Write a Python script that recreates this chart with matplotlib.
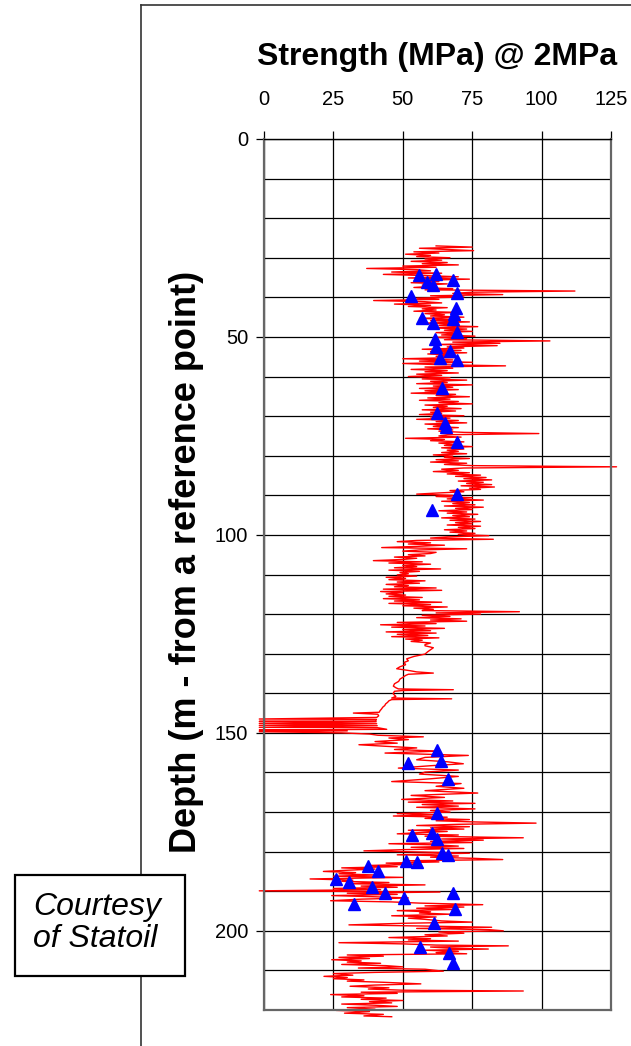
import matplotlib
matplotlib.use("Agg")
import matplotlib.pyplot as plt
from matplotlib.lines import Line2D
from matplotlib.patches import Rectangle

plt.rcParams['font.family'] = ['Liberation Sans', 'DejaVu Sans']

# strength log (depth m, strength MPa)
log_points = [
    (27.0, 62), (27.3, 75), (27.6, 56), (27.9, 66), (28.2, 75.5), (28.5, 54), (28.8, 63), (29.1, 51), (29.4, 60), (29.7, 55),
    (30.0, 67), (30.3, 58), (30.6, 64), (30.9, 53), (31.2, 66), (31.5, 57), (31.8, 70), (32.1, 50), (32.4, 62), (32.7, 37),
    (33.0, 55), (33.3, 60), (33.6, 46), (33.9, 64), (34.2, 43), (34.5, 58), (34.8, 70), (35.1, 52), (35.4, 74), (35.7, 56),
    (36.0, 63), (36.3, 53), (36.6, 66), (36.9, 57), (37.2, 61), (37.5, 54), (37.8, 68), (38.1, 58), (38.4, 112), (38.7, 75),
    (39.0, 68), (39.3, 86), (39.6, 60), (39.9, 72), (40.2, 55), (40.5, 63), (40.8, 39.5), (41.1, 58), (41.4, 64), (41.7, 47),
    (42.0, 60), (42.3, 52), (42.6, 66), (42.9, 57), (43.2, 62), (43.5, 54), (43.8, 70), (44.1, 58), (44.4, 65), (44.7, 60),
    (45.0, 72), (45.3, 56), (45.6, 68), (45.9, 60), (46.2, 74), (46.5, 58), (46.8, 70), (47.1, 63), (47.4, 77), (47.7, 60),
    (48.0, 73), (48.3, 65), (48.6, 75), (48.9, 62), (49.2, 70), (49.5, 64), (49.8, 76), (50.1, 61), (50.4, 73), (50.7, 65),
    (51.0, 103), (51.3, 68), (51.6, 85), (51.9, 62), (52.2, 84), (52.5, 66), (52.8, 72), (53.1, 57), (53.4, 71), (53.7, 60),
    (54.0, 73), (54.3, 59), (54.6, 69), (54.9, 62), (55.2, 70), (55.5, 50), (55.8, 68), (56.1, 56), (56.4, 75), (56.7, 50),
    (57.0, 63), (57.3, 87), (57.6, 58), (57.9, 68), (58.2, 53), (58.5, 66), (58.8, 58), (59.1, 70), (59.4, 55), (59.7, 64),
    (60.0, 52), (60.3, 67), (60.6, 57), (60.9, 73), (61.2, 60), (61.5, 66), (61.8, 55), (62.1, 75), (62.4, 61), (62.7, 68),
    (63.0, 56), (63.3, 70), (63.6, 58), (63.9, 66), (64.2, 53), (64.5, 69), (64.8, 62), (65.1, 74), (65.4, 59), (65.7, 67),
    (66.0, 56), (66.3, 70), (66.6, 63), (66.9, 75), (67.2, 58), (67.5, 66), (67.8, 61), (68.1, 71), (68.4, 57), (68.7, 69),
    (69.0, 60), (69.3, 64), (69.6, 56), (69.9, 72), (70.2, 60), (70.5, 67), (70.8, 55), (71.1, 70), (71.4, 62), (71.7, 73),
    (72.0, 58), (72.3, 66), (72.6, 61), (72.9, 70), (73.2, 59), (73.5, 68), (73.8, 63), (74.1, 72), (74.4, 99), (74.7, 66),
    (75.0, 63), (75.3, 71), (75.6, 51), (75.9, 65), (76.2, 60), (76.5, 72), (76.8, 63), (77.1, 68), (77.4, 65), (77.7, 75),
    (78.0, 64), (78.3, 72), (78.6, 66), (78.9, 70), (79.2, 64), (79.5, 73), (79.8, 61), (80.1, 68), (80.4, 65), (80.7, 74),
    (81.0, 62), (81.3, 70), (81.6, 60), (81.9, 73), (82.2, 65), (82.5, 75), (82.8, 127), (83.1, 72), (83.4, 64), (83.7, 70),
    (84.0, 61), (84.3, 74), (84.6, 66), (84.9, 78), (85.2, 69), (85.5, 80), (85.8, 72), (86.1, 82), (86.4, 70), (86.7, 79),
    (87.0, 73), (87.3, 82), (87.6, 71), (87.9, 83), (88.2, 74), (88.5, 78), (88.8, 67), (89.1, 72), (89.4, 63), (89.7, 55),
    (90.0, 68), (90.3, 62), (90.6, 75), (90.9, 66), (91.2, 79), (91.5, 64), (91.8, 74), (92.1, 68), (92.4, 76), (92.7, 65),
    (93.0, 79), (93.3, 69), (93.6, 75), (93.9, 63), (94.2, 73), (94.5, 66), (94.8, 77), (95.1, 68), (95.4, 74), (95.7, 64),
    (96.0, 76), (96.3, 67), (96.6, 78), (96.9, 69), (97.2, 75), (97.5, 66), (97.8, 78), (98.1, 70), (98.4, 76), (98.7, 65),
    (99.0, 73), (99.3, 67), (99.6, 76), (99.9, 70), (100.2, 81), (100.5, 66), (100.8, 60), (101.1, 82.6), (101.4, 55), (101.7, 48),
    (102.0, 60), (102.3, 52), (102.6, 65), (102.9, 55), (103.2, 42.4), (103.5, 73), (103.8, 56), (104.1, 50), (104.4, 62), (104.7, 60),
    (105.0, 52), (105.3, 58), (105.6, 47), (105.9, 55), (106.2, 50), (106.5, 39.4), (106.8, 57), (107.1, 45), (107.4, 60), (107.7, 50),
    (108.0, 55), (108.3, 47), (108.6, 63.6), (108.9, 45), (109.2, 56), (109.5, 49), (109.8, 52), (110.1, 48), (110.4, 55), (110.7, 44),
    (111.0, 51), (111.3, 45), (111.6, 58), (111.9, 48), (112.2, 56), (112.5, 44), (112.8, 52), (113.1, 47), (113.4, 62), (113.7, 43),
    (114.0, 64), (114.3, 42), (114.6, 50), (114.9, 44), (115.2, 51), (115.5, 45), (115.8, 57), (116.1, 43), (116.4, 56), (116.7, 47),
    (117.0, 64), (117.3, 45), (117.6, 60), (117.9, 50), (118.2, 66), (118.5, 54), (118.8, 61), (119.1, 57), (119.4, 92), (119.7, 62),
    (120.0, 78), (120.3, 57), (120.6, 67), (120.9, 55), (121.2, 71), (121.5, 60), (121.8, 73), (122.1, 48), (122.4, 62), (122.7, 42),
    (123.0, 58), (123.3, 46), (123.6, 65), (123.9, 50), (124.2, 60), (124.5, 44), (124.8, 62), (125.1, 48), (125.4, 59), (125.7, 46),
    (126.0, 63), (126.3, 51), (126.6, 57), (126.9, 53), (127.3, 60), (127.7, 58), (128.0, 58), (128.5, 61), (129.0, 60), (129.5, 59),
    (130.1, 58), (130.7, 54), (131.3, 51.4), (131.8, 52), (132.2, 50.5), (132.8, 51), (133.3, 49), (133.8, 47.8), (134.3, 52.6), (134.6, 55),
    (134.9, 61), (135.2, 52), (135.5, 51), (136.0, 50), (136.4, 49), (137.0, 48.5), (137.6, 47), (138.2, 46.6), (138.6, 47.5), (138.9, 48.4),
    (139.1, 68.2), (139.3, 50), (139.5, 47), (140.1, 46.5), (140.8, 47.5), (141.2, 46), (141.4, 67.6), (141.6, 46), (141.9, 45), (142.3, 44.5),
    (142.7, 43.8), (143.1, 43.5), (143.5, 42.8), (144.0, 42.3), (144.4, 41.8), (144.8, 41.5), (145.0, 32.2), (145.3, 41), (145.7, 41.3), (146.1, 40.6),
    (146.5, -1.7), (146.6, 40.5), (147.0, 40.2), (147.1, -1.7), (147.2, 40.4), (147.6, -1.7), (147.7, 40.6), (148.1, -1.7), (148.2, 40.8), (148.6, -1.7),
    (148.7, 41), (149.1, 44.2), (149.3, -1.7), (149.5, 30), (149.7, -1.7), (150.0, 28), (150.3, 38), (150.6, 41), (151.0, 57.4), (151.3, 45),
    (151.7, 52), (152.2, 40), (152.6, 48), (153.0, 34.2), (153.4, 44), (153.8, 55), (154.2, 47), (154.6, 63), (155.1, 43.6), (155.7, 73.6),
    (156.2, 58), (156.8, 55), (157.3, 66), (157.8, 71.8), (158.3, 60), (158.9, 48.4), (159.4, 70), (159.9, 58), (160.4, 56), (161.0, 70),
    (161.6, 60), (162.3, 46), (162.8, 71), (163.5, 62), (164.0, 72), (164.6, 58), (165.2, 77), (165.8, 53), (166.3, 65), (166.8, 49.6),
    (167.2, 68), (167.5, 52), (167.8, 76), (168.1, 57), (168.5, 70), (168.8, 55), (169.2, 76), (169.6, 60), (170.0, 67), (170.4, 48),
    (170.7, 62), (171.0, 46.6), (171.3, 66), (171.6, 58), (171.9, 74), (172.2, 62), (172.5, 76), (172.8, 98), (173.1, 70), (173.4, 55),
    (173.7, 74), (174.0, 60), (174.3, 72), (174.6, 52), (174.9, 66), (175.2, 56), (175.5, 48), (175.8, 70), (176.1, 58), (176.5, 93.4),
    (176.8, 64), (177.1, 79), (177.4, 60), (177.7, 75), (178.0, 45), (178.3, 62), (178.6, 70), (178.9, 53), (179.2, 72), (179.5, 50),
    (179.8, 36), (180.1, 57), (180.4, 74), (180.8, 48), (181.1, 70), (181.4, 60), (181.7, 76), (182.0, 86), (182.3, 52), (182.6, 63),
    (182.9, 44), (183.2, 55), (183.5, 37), (183.8, 48), (184.1, 28), (184.4, 40), (184.7, 30), (185.0, 21.4), (185.3, 33), (185.6, 27),
    (185.9, 40), (186.2, 25), (186.5, 50), (186.9, 16.6), (187.2, 32), (187.5, 28), (187.8, 45), (188.1, 30), (188.4, 58), (188.7, 35),
    (189.0, 48), (189.3, 25), (189.6, 42), (189.9, -1.7), (190.2, 63.4), (190.5, 30), (190.8, 48), (191.1, 24.4), (191.4, 40), (191.7, 52),
    (192.0, 35), (192.4, 24), (192.7, 46), (193.0, 56), (193.4, 78.8), (193.7, 58), (194.0, 72), (194.3, 55), (194.6, 69), (194.9, 48),
    (195.2, 60), (195.5, 56), (195.8, 67), (196.2, 46), (196.5, 62), (196.8, 52), (197.1, 58), (197.5, 64), (197.8, 75), (198.1, 50),
    (198.5, 30.6), (198.8, 58), (199.1, 82), (199.4, 55), (199.7, 81), (200.0, 86.2), (200.3, 63), (200.6, 72), (201.0, 58), (201.3, 66),
    (201.7, 45), (202.0, 60), (202.3, 52), (202.6, 70), (203.0, 27), (203.3, 50), (203.6, 62), (203.8, 88), (204.1, 60), (204.4, 67),
    (204.6, 80.8), (204.9, 58), (205.2, 70), (205.5, 62), (205.8, 73), (206.1, 30), (206.4, 43), (206.7, 27), (207.0, 38), (207.3, 24.4),
    (207.6, 35), (207.9, 30), (208.2, 42), (208.5, 28), (208.8, 44), (209.1, 50), (209.4, 34), (209.7, 58), (210.2, 64.6), (210.5, 40),
    (210.8, 25), (211.2, 32), (211.5, 21.6), (211.8, 30), (212.1, 25), (212.4, 36), (212.7, 30), (213.0, 43), (213.4, 56.5), (213.7, 40),
    (214.0, 31), (214.4, 45), (214.7, 37.6), (215.0, 50), (215.2, 93.4), (215.5, 35), (215.8, 48), (216.1, 24), (216.4, 36), (216.7, 28),
    (217.0, 44), (217.3, 35), (217.6, 50), (217.9, 38), (218.2, 46), (218.5, 28), (218.8, 40), (219.1, 48), (219.4, 30), (219.8, 40),
    (220.1, 26), (220.4, 38), (220.8, 29), (221.1, 43), (221.5, 36), (221.7, 46),
]
log_depth = [d for d, s in log_points]
log_strength = [s for d, s in log_points]

# lab test points
core_depth = [34.4, 34.2, 36.0, 36.9, 35.6, 38.8, 39.7, 42.8, 44.1, 45.4,
              45.2, 46.4, 48.7, 50.6, 52.5, 53.5, 55.2, 55.9, 62.8, 69.2,
              71.7, 72.7, 76.5, 89.6, 93.6, 154.3, 157.0, 157.6, 161.6, 170.3,
              175.7, 175.3, 176.8, 180.3, 180.8, 182.3, 182.5, 183.6, 185.0, 186.8,
              187.6, 189.0, 190.5, 190.4, 191.8, 193.2, 194.5, 198.1, 204.0, 205.7,
              208.2]
core_strength = [55.9, 61.8, 58.6, 61.0, 68.2, 69.4, 53.0, 69.0, 68.6, 68.2,
                 56.9, 61.0, 69.4, 61.7, 61.8, 67.0, 63.4, 69.4, 64.0, 62.2,
                 65.2, 65.6, 69.4, 69.4, 60.5, 62.2, 63.8, 51.8, 66.4, 62.2,
                 53.4, 60.4, 62.2, 64.0, 66.4, 51.2, 55.2, 37.6, 41.2, 25.9,
                 30.6, 38.8, 43.5, 68.2, 50.4, 32.4, 68.8, 61.1, 56.3, 66.8,
                 68.1]

x_ticks = [0, 25, 50, 75, 100, 125]
y_ticks = [0, 50, 100, 150, 200]

fig = plt.figure(figsize=(6.31, 10.46), dpi=100)
ax = fig.add_axes([264 / 631, 1 - 1010 / 1046, 347 / 631, 871 / 1046])

ax.plot(log_strength, log_depth, color='red', lw=1.0, clip_on=False, zorder=2)
ax.plot(core_strength, core_depth, '^', color='blue', mec='blue', ms=8.5, ls='none', zorder=3)

ax.set_xlim(0, 125)
ax.set_ylim(220, 0)
ax.xaxis.tick_top()
ax.set_xticks(x_ticks)
ax.set_yticks(y_ticks)
ax.set_yticks(range(0, 221, 10), minor=True)
ax.tick_params(axis='y', which='minor', length=0)
ax.tick_params(which='major', direction='out', length=5.5, width=0.9, color='black', labelsize=14.5)
ax.tick_params(axis='x', pad=16)
ax.tick_params(axis='y', pad=6)
ax.grid(which='major', axis='x', color='black', lw=0.9)
ax.grid(which='both', axis='y', color='black', lw=0.9)
ax.set_axisbelow(True)
for side in ['left', 'right', 'bottom']:
    ax.spines[side].set_color('#666666')
    ax.spines[side].set_linewidth(1.6)
ax.spines['top'].set_color('black')
ax.spines['top'].set_linewidth(1.0)

fig.text(437 / 631, 1 - 57 / 1046, 'Strength (MPa) @ 2MPa', ha='center', va='center',
         fontsize=23, fontweight='bold')
fig.text(187 / 631, 1 - 562 / 1046, 'Depth (m - from a reference point)', ha='center', va='center',
         rotation=90, fontsize=26, fontweight='bold')

# frame lines along the left and top of the page
fig.add_artist(Line2D([141 / 631, 141 / 631], [0, 1 - 5 / 1046], color='#333333', lw=1.2))
fig.add_artist(Line2D([141 / 631, 1], [1 - 5 / 1046, 1 - 5 / 1046], color='#333333', lw=1.2))

# credit box
fig.add_artist(Rectangle((15 / 631, 1 - 976 / 1046), 170 / 631, 101 / 1046, transform=fig.transFigure,
                         facecolor='white', edgecolor='black', lw=1.6, zorder=5))
fig.text(33 / 631, 1 - 923 / 1046, 'Courtesy\nof Statoil', ha='left', va='center', style='italic',
         fontsize=23, linespacing=1.1, zorder=6)

fig.savefig('out.png', dpi=100)
